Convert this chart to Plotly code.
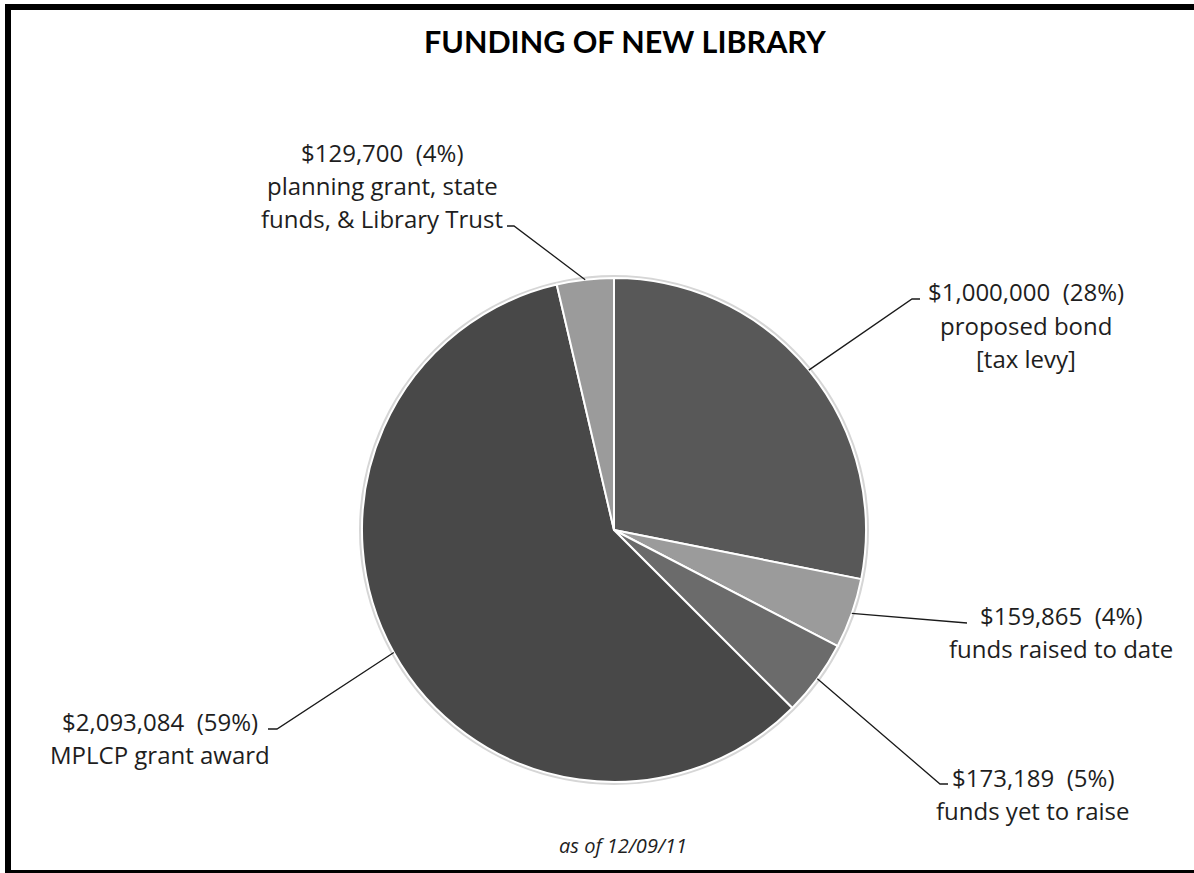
import math
import plotly.graph_objects as go

W, H = 1194, 873

# ---- data ----
amounts = [1000000, 159865, 173189, 2093084, 129700]
percents = ["28%", "4%", "5%", "59%", "4%"]
descriptions = [["proposed bond", "[tax levy]"], ["funds raised to date"], ["funds yet to raise"],
                ["MPLCP grant award"], ["planning grant, state", "funds, &amp; Library Trust"]]
slice_colors = ["#585858", "#9b9b9b", "#6b6b6b", "#484848", "#9b9b9b"]

title_text = "FUNDING OF NEW LIBRARY"
footnote_text = "as of 12/09/11"

# ---- layout geometry (pixels) ----
cx, cy, R = 614, 530, 252
FONT = "Open Sans"
LINE = 33

def px(x):
    return x / W

def py(y):
    return 1 - y / H

# label centre x and first-line y (pixels)
label_pos = [(1026, 292), (1061, 615), (1033, 777), (160, 721), (382, 152)]
elbows = [[(912, 299), (920, 299)],
          [(967, 623)],
          [(940, 784), (948, 784)],
          [(277, 729), (268, 729)],
          [(514, 226), (507, 226)]]

fig = go.Figure()
fig.add_trace(go.Pie(
    values=amounts,
    labels=[f"${a:,}" for a in amounts],
    sort=False,
    direction="clockwise",
    rotation=0,
    textinfo="none",
    hoverinfo="label+percent",
    marker=dict(colors=slice_colors, line=dict(color="white", width=2)),
    domain=dict(x=[px(cx - R), px(cx + R)], y=[py(cy + R), py(cy - R)]),
    showlegend=False,
))

shapes = []
# rim behind pie
shapes.append(dict(type="circle", xref="paper", yref="paper", layer="below",
                   x0=px(cx - R - 3), x1=px(cx + R + 3), y0=py(cy + R + 3), y1=py(cy - R - 3),
                   fillcolor="#d6d6d6", line=dict(width=0)))

# leader lines from slice mid-angle
total = sum(amounts)
cum = 0
for i, a in enumerate(amounts):
    mid = (cum + a / 2) / total * 2 * math.pi
    cum += a
    ex, ey = cx + R * math.sin(mid), cy - R * math.cos(mid)
    pts = [(ex, ey)] + elbows[i]
    path = "M " + " L ".join(f"{px(x)},{py(y)}" for x, y in pts)
    shapes.append(dict(type="path", xref="paper", yref="paper", path=path,
                       line=dict(color="#1a1a1a", width=1.3)))

# frame
shapes += [
    dict(type="rect", xref="paper", yref="paper", x0=px(5), x1=px(11), y0=py(873), y1=py(4),
         fillcolor="black", line=dict(width=0)),
    dict(type="rect", xref="paper", yref="paper", x0=px(5), x1=px(1194), y0=py(10), y1=py(4),
         fillcolor="black", line=dict(width=0)),
    dict(type="rect", xref="paper", yref="paper", x0=px(5), x1=px(1194), y0=py(873), y1=py(870),
         fillcolor="black", line=dict(width=0)),
]

annotations = []
for i, a in enumerate(amounts):
    lx, ly = label_pos[i]
    lines = [f"${a:,}&nbsp;&nbsp;({percents[i]})"] + descriptions[i]
    for k, t in enumerate(lines):
        annotations.append(dict(x=px(lx), y=py(ly + k * LINE), xref="paper", yref="paper", text=t,
                                showarrow=False, xanchor="center", yanchor="middle", align="center",
                                font=dict(family=FONT, size=24, color="#1e1e1e")))

annotations.append(dict(x=px(625), y=py(41), xref="paper", yref="paper", text=f"<b>{title_text}</b>",
                        showarrow=False, xanchor="center", yanchor="middle",
                        font=dict(family="Lato", size=30.5, color="black")))
annotations.append(dict(x=px(623), y=py(845), xref="paper", yref="paper", text=f"<i>{footnote_text}</i>",
                        showarrow=False, xanchor="center", yanchor="middle",
                        font=dict(family=FONT, size=20, color="#1e1e1e")))

fig.update_layout(
    width=W, height=H,
    margin=dict(l=0, r=0, t=0, b=0),
    paper_bgcolor="white", plot_bgcolor="white",
    shapes=shapes, annotations=annotations,
)

fig.write_html("out.html")
